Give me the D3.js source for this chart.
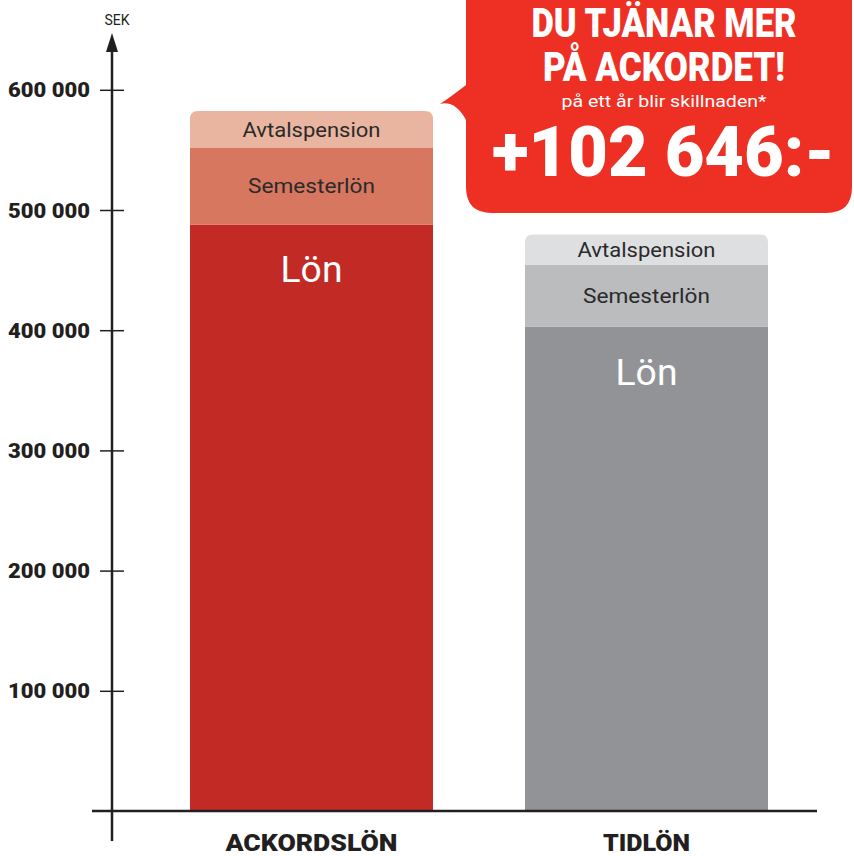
<!DOCTYPE html>
<html>
<head>
<meta charset="utf-8">
<script src="https://cdn.jsdelivr.net/npm/d3@7"></script>
<style>
  body { margin: 0; background: #fff; }
  svg { display: block; font-family: Roboto, "Noto Sans", sans-serif; }
</style>
</head>
<body>
<div id="chart"></div>
<script>
// data
const categories = ["ACKORDSLÖN", "TIDLÖN"];
const segmentNames = ["Lön", "Semesterlön", "Avtalspension"];
const lon = [488000, 403000];
const semesterlon = [63500, 51300];
const avtalspension = [30800, 25350];
const yTicks = [100000, 200000, 300000, 400000, 500000, 600000];
const colors = [
    ["#c22a25", "#d77760", "#e9b5a0"],
    ["#929396", "#bbbcbe", "#dedfe1"]
];

const width = 854, height = 856;

const svg = d3.select("#chart").append("svg")
    .attr("width", width)
    .attr("height", height);

// scales
const y = d3.scaleLinear().domain([0, 600000]).range([811, 89.8]);
const x = d3.scaleBand()
    .domain(categories)
    .range([144, 814])
    .paddingInner(0.2746)
    .paddingOuter(0.1373);

// stacked rows
const rows = categories.map((c, i) => ({
    cat: c, idx: i,
    "Lön": lon[i], "Semesterlön": semesterlon[i], "Avtalspension": avtalspension[i]
}));
const series = d3.stack().keys(segmentNames)(rows);

// ---- bars ----
function topRounded(x0, y0, w, h, r) {
    return `M${x0},${y0 + h} L${x0},${y0 + r} Q${x0},${y0} ${x0 + r},${y0}
            L${x0 + w - r},${y0} Q${x0 + w},${y0} ${x0 + w},${y0 + r} L${x0 + w},${y0 + h} Z`;
}

series.forEach((s, si) => {
    svg.append("g").selectAll("path")
        .data(s)
        .join("path")
        .attr("d", d => {
            const x0 = x(d.data.cat), w = x.bandwidth();
            const y0 = y(d[1]), h = y(d[0]) - y(d[1]);
            const r = si === series.length - 1 ? 8 : 0;
            return topRounded(x0, y0, w, h, r);
        })
        .attr("fill", d => colors[d.data.idx][si]);
});

// segment labels
const labelWidth = { "Lön": 62, "Semesterlön": 127, "Avtalspension": 138 };
series.forEach((s, si) => {
    svg.append("g").selectAll("text")
        .data(s)
        .join("text")
        .attr("x", d => x(d.data.cat) + x.bandwidth() / 2)
        .attr("y", d => si === 0 ? y(d[1]) + 58 : (y(d[1]) + y(d[0])) / 2 + 7)
        .attr("text-anchor", "middle")
        .attr("font-size", si === 0 ? 36 : 20)
        .attr("fill", si === 0 ? "#fff" : "#2a2a2a")
        .attr("textLength", labelWidth[s.key])
        .attr("lengthAdjust", "spacingAndGlyphs")
        .text(s.key);
});

// ---- axes ----
const yAxis = d3.axisLeft(y).tickValues(yTicks).tickSize(12)
    .tickFormat(d => d3.format(",")(d).replace(/,/g, " "));

const yAxisGroup = svg.append("g")
    .attr("transform", "translate(112,0)")
    .call(yAxis);
yAxisGroup.select(".domain").remove();
yAxisGroup.selectAll(".tick line")
    .attr("x1", -12).attr("x2", 12)
    .attr("stroke", "#231f20").attr("stroke-width", 1.5);
yAxisGroup.selectAll(".tick text")
    .attr("x", -22)
    .attr("dy", "0.35em")
    .attr("font-size", 20)
    .attr("font-weight", "900")
    .attr("font-family", "Roboto, sans-serif")
    .attr("fill", "#231f20")
    .attr("textLength", 82)
    .attr("lengthAdjust", "spacingAndGlyphs");

// vertical axis line with arrow
svg.append("line")
    .attr("x1", 112).attr("x2", 112)
    .attr("y1", 50).attr("y2", 841)
    .attr("stroke", "#231f20").attr("stroke-width", 2.5);
svg.append("path")
    .attr("d", "M112,33 L106,52 L118,52 Z")
    .attr("fill", "#231f20");
svg.append("text")
    .attr("x", 117).attr("y", 25)
    .attr("text-anchor", "middle")
    .attr("font-size", 14)
    .attr("fill", "#231f20")
    .text("SEK");

// baseline
svg.append("line")
    .attr("x1", 92).attr("x2", 817)
    .attr("y1", y(0)).attr("y2", y(0))
    .attr("stroke", "#231f20").attr("stroke-width", 2.5);

// x axis labels
const xAxis = d3.axisBottom(x).tickSize(0);
const xAxisGroup = svg.append("g")
    .attr("transform", `translate(0,${y(0)})`)
    .call(xAxis);
xAxisGroup.select(".domain").remove();
xAxisGroup.selectAll(".tick text")
    .attr("y", 40)
    .attr("dy", 0)
    .attr("font-size", 24)
    .attr("font-weight", "900")
    .attr("font-family", "Roboto, sans-serif")
    .attr("fill", "#231f20")
    .attr("textLength", d => d === "ACKORDSLÖN" ? 172 : 87)
    .attr("lengthAdjust", "spacingAndGlyphs");

// ---- callout bubble ----
const bubble = svg.append("g");
const bx0 = 466, bx1 = 852, by0 = -30, by1 = 213, br = 26;
bubble.append("path")
    .attr("d", `M${bx0},${by0} L${bx1},${by0} L${bx1},${by1 - br} Q${bx1},${by1} ${bx1 - br},${by1}
                L${bx0 + br},${by1} Q${bx0},${by1} ${bx0},${by1 - br}
                L${bx0},120 Q455,100 440,104 Q452,96 ${bx0},85 Z`)
    .attr("fill", "#ee2f24");

const calloutLines = [
    { text: "DU TJÄNAR MER", y: 37, size: 40, w: 265, bold: true },
    { text: "PÅ ACKORDET!", y: 81, size: 40, w: 242, bold: true },
    { text: "på ett år blir skillnaden*", y: 107, size: 16, w: 205, bold: false },
    { text: "+102 646:-", y: 176, size: 70, w: 343, bold: true }
];
bubble.selectAll("text")
    .data(calloutLines)
    .join("text")
    .attr("x", d => d.text.startsWith("+") ? 663.5 : 664)
    .attr("y", d => d.y)
    .attr("text-anchor", "middle")
    .attr("fill", "#fff")
    .attr("font-size", d => d.size)
    .attr("font-weight", d => d.bold ? "900" : "normal")
    .attr("textLength", d => d.w)
    .attr("lengthAdjust", "spacingAndGlyphs")
    .text(d => d.text);
</script>
</body>
</html>
